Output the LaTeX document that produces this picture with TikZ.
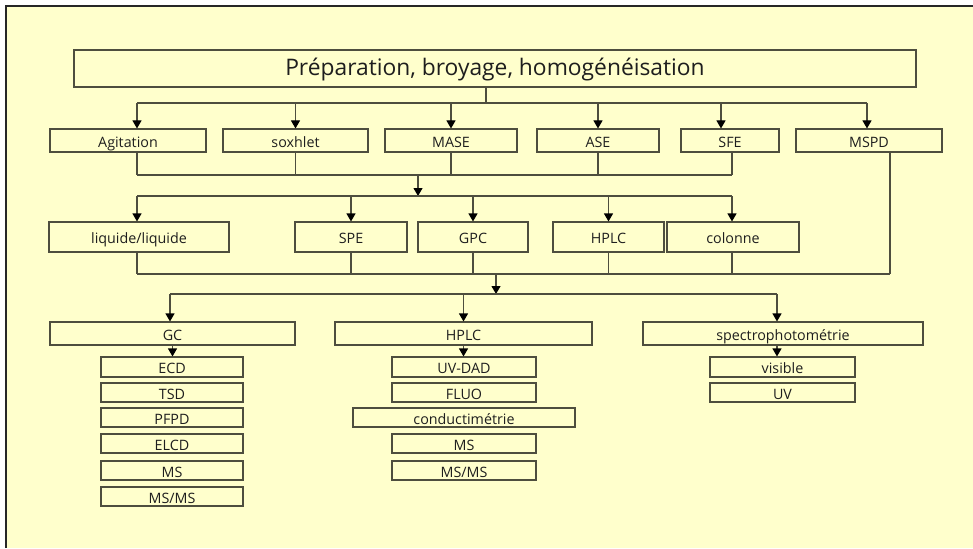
\documentclass[tikz,border=0pt]{standalone}
\usepackage{fontspec}
\setmainfont{Open Sans}
\usetikzlibrary{arrows.meta}
\definecolor{bgc}{RGB}{255,255,204}
\definecolor{lnc}{RGB}{78,78,62}
\definecolor{txc}{RGB}{30,30,30}
\newcommand\bbox[6]{\node[bx, minimum width={#4-#2}, minimum height={#5-#3}] (#1) at ({(#2+#4)/2},{(#3+#5)/2}) {#6};}
\begin{document}
\begin{tikzpicture}[x=1pt,y=-1pt,
  bx/.style={draw=lnc, line width=1.1pt, inner sep=0pt, text=txc, font=\fontsize{14.3}{16}\selectfont, text height=13.2pt, text depth=0pt},
  wire/.style={draw=lnc, line width=1.1pt},
  arr/.style={wire, -{Triangle[length=8pt,width=9pt,color=black]}}]
\useasboundingbox (0,0) rectangle (973,548);
\fill[white] (0,0) rectangle (973,548);
\fill[bgc] (6,6) rectangle (973,548);
\draw[line width=1.4pt, black!85] (6,548) -- (6,6) -- (973,6);

% title
\node[bx, minimum width=842, minimum height=37, font=\fontsize{22.8}{26}\selectfont, text height=14pt, text depth=0pt] (top) at (495,68.5) {Préparation, broyage, homogénéisation};

% row 2
\bbox{agit}{50}{129}{206}{152}{Agitation}
\bbox{sox}{223}{129}{368}{152}{soxhlet}
\bbox{mase}{385}{129}{517}{152}{MASE}
\bbox{ase}{537}{129}{659}{152}{ASE}
\bbox{sfe}{681}{129}{779}{152}{SFE}
\bbox{mspd}{796}{129}{942}{152}{MSPD}

% row 3
\bbox{liq}{49}{222}{229}{252}{liquide/liquide}
\bbox{spe}{295}{222}{407}{252}{SPE}
\bbox{gpc}{418}{222}{528}{252}{GPC}
\bbox{hplca}{553}{222}{664}{252}{HPLC}
\bbox{col}{667}{222}{799}{252}{colonne}

% row 4
\bbox{gc}{50}{322}{295}{345}{GC}
\bbox{hplcb}{335}{322}{592}{345}{HPLC}
\bbox{spec}{643}{322}{923}{345}{spectrophotométrie}

% GC detectors
\bbox{ecd}{101}{357}{243}{377}{ECD}
\bbox{tsd}{101}{383}{243}{402}{TSD}
\bbox{pfpd}{101}{408}{243}{427}{PFPD}
\bbox{elcd}{101}{434}{243}{453}{ELCD}
\bbox{msa}{101}{461}{243}{480}{MS}
\bbox{msmsa}{101}{487}{243}{506}{MS/MS}

% HPLC detectors
\bbox{uvdad}{392}{357}{536}{377}{UV-DAD}
\bbox{fluo}{392}{383}{536}{402}{FLUO}
\bbox{cond}{353}{408}{575}{427}{conductimétrie}
\bbox{msb}{392}{434}{536}{453}{MS}
\bbox{msmsb}{392}{461}{536}{480}{MS/MS}

% spectro detectors
\bbox{vis}{710}{357}{855}{377}{visible}
\bbox{uv}{710}{383}{855}{402}{UV}

% bus 1
\coordinate (b1) at (486,103);
\coordinate (b1l) at (137,103);
\coordinate (b1r) at (867,103);
\draw[wire] (top.south -| b1) -- (b1);
\draw[wire] (b1l) -- (b1r);
\draw[arr] (b1l) -- (agit.north -| b1l);
\draw[arr] (sox.north |- b1) -- (sox.north);
\draw[arr] (mase.north |- b1) -- (mase.north);
\draw[arr] (ase.north |- b1) -- (ase.north);
\draw[arr] ([xshift=-9pt]sfe.north |- b1) -- ([xshift=-9pt]sfe.north);
\draw[arr] (b1r) -- (mspd.north -| b1r);

% bus 2
\coordinate (b2l) at (137,175);
\coordinate (b2r) at (732,175);
\coordinate (b2) at (418,175);
\draw[wire] (agit.south -| b2l) -- (b2l);
\draw[wire] (sox.south) -- (sox.south |- b2l);
\draw[wire] (mase.south) -- (mase.south |- b2l);
\draw[wire] (ase.south) -- (ase.south |- b2l);
\draw[wire] (sfe.south -| b2r) -- (b2r);
\draw[wire] (b2l) -- (b2r);

% bus 3
\coordinate (b3) at (418,196);
\coordinate (b3l) at (137,196);
\coordinate (b3r) at (732,196);
\draw[arr] (b2) -- (b3);
\draw[wire] (b3l) -- (b3r);
\draw[arr] (b3l) -- (liq.north -| b3l);
\draw[arr] (spe.north |- b3) -- (spe.north);
\draw[arr] (gpc.north |- b3) -- (gpc.north);
\draw[arr] (hplca.north |- b3) -- (hplca.north);
\draw[arr] (b3r) -- (col.north -| b3r);

% bus 4
\coordinate (b4l) at (137,274);
\coordinate (b4r) at (890,274);
\coordinate (b4) at (496,274);
\draw[wire] (liq.south -| b4l) -- (b4l);
\draw[wire] (spe.south) -- (spe.south |- b4l);
\draw[wire] (gpc.south) -- (gpc.south |- b4l);
\draw[wire] (hplca.south) -- (hplca.south |- b4l);
\draw[wire] (col.south -| b3r) -- (b3r |- b4l);
\draw[wire] (mspd.south -| b4r) -- (b4r);
\draw[wire] (b4l) -- (b4r);

% bus 5
\coordinate (b5) at (496,294);
\coordinate (b5l) at (170,294);
\coordinate (b5r) at (777,294);
\draw[arr] (b4) -- (b5);
\draw[wire] (b5l) -- (b5r);
\draw[arr] (b5l) -- (gc.north -| b5l);
\draw[arr] (hplcb.north |- b5) -- (hplcb.north);
\draw[arr] (b5r) -- (spec.north -| b5r);

% detector arrows
\draw[arr] (gc.south) -- (gc.south |- ecd.north);
\draw[arr] (hplcb.south) -- (hplcb.south |- uvdad.north);
\draw[arr] (spec.south -| b5r) -- (vis.north -| b5r);
\end{tikzpicture}
\end{document}
